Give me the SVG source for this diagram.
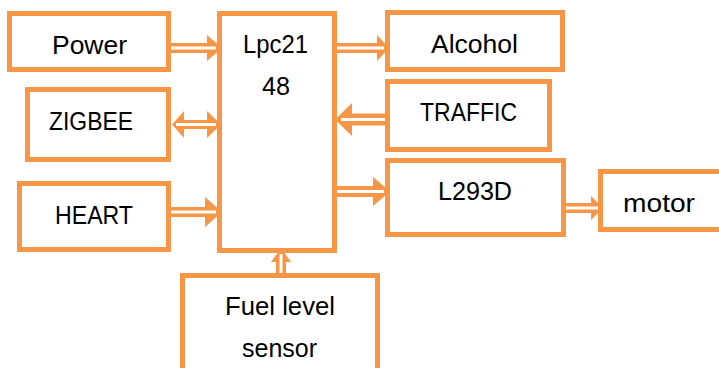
<svg xmlns="http://www.w3.org/2000/svg" width="719" height="368" viewBox="0 0 719 368">
<style>
.box{fill:#fff;stroke:#F79646;stroke-width:5}
.t{font-family:"Liberation Sans",Arial,sans-serif;font-size:25px;fill:#000}
.ar{fill:#F79646}
.aw{fill:none;stroke:#fff;stroke-width:3}
</style>
<rect width="719" height="368" fill="#fff"/>
<g id="connectors">
  <path class="ar" d="M171,43 H207 V35 L222,48 L207,61 V53 H171 Z"/>
  <path class="aw" d="M171,48 H216"/>
  <path class="ar" d="M172,124.5 L184,111 V120 H207 V111 L221,124.5 L207,138 V129 H184 V138 Z"/>
  <path class="aw" d="M176,124.5 H216"/>
  <path class="ar" d="M171,207 H205 V197 L222,212 L205,227 V217 H171 Z"/>
  <path class="aw" d="M171,212 H216"/>
  <path class="ar" d="M337,43 H377 V35 L389,48 L377,61 V53 H337 Z"/>
  <path class="aw" d="M337,48 H384"/>
  <path class="ar" d="M385,113.5 H352 V103 L335,119.5 L352,136 V125.5 H385 Z"/>
  <path class="aw" d="M385,119.5 H341"/>
  <path class="ar" d="M337,186 H373 V177 L390,191.5 L373,206 V197 H337 Z"/>
  <path class="aw" d="M337,191.5 H384"/>
  <path class="ar" d="M566,203 H591 V196 L603,208 L591,220 V213 H566 Z"/>
  <path class="aw" d="M566,208 H598"/>
  <path class="ar" d="M276,273 V262 H271 L281,248 L291,262 H286 V273 Z"/>
  <path class="aw" d="M281,273 V254"/>
</g>
<g id="power">
  <rect class="box" x="9.5" y="13.5" width="159" height="56"/>
  <text class="t" x="52" y="54" textLength="75" lengthAdjust="spacingAndGlyphs">Power</text>
</g>
<g id="zigbee">
  <rect class="box" x="27.5" y="89.5" width="141" height="70"/>
  <text class="t" x="49" y="130" textLength="84" lengthAdjust="spacingAndGlyphs">ZIGBEE</text>
</g>
<g id="heart">
  <rect class="box" x="19.5" y="183.5" width="149" height="66"/>
  <text class="t" x="55" y="224" textLength="78" lengthAdjust="spacingAndGlyphs">HEART</text>
</g>
<g id="lpc2148">
  <rect class="box" x="219.5" y="13.5" width="115" height="237"/>
  <text class="t" x="243" y="53" textLength="65" lengthAdjust="spacingAndGlyphs">Lpc21</text>
  <text class="t" x="262" y="95" textLength="28" lengthAdjust="spacingAndGlyphs">48</text>
</g>
<g id="alcohol">
  <rect class="box" x="387.5" y="12.5" width="175" height="57"/>
  <text class="t" x="431" y="53" textLength="87" lengthAdjust="spacingAndGlyphs">Alcohol</text>
</g>
<g id="traffic">
  <rect class="box" x="387.5" y="81.5" width="162" height="68"/>
  <text class="t" x="420" y="121" textLength="97" lengthAdjust="spacingAndGlyphs">TRAFFIC</text>
</g>
<g id="l293d">
  <rect class="box" x="387.5" y="160.5" width="176" height="74"/>
  <text class="t" x="438" y="200" textLength="74" lengthAdjust="spacingAndGlyphs">L293D</text>
</g>
<g id="motor">
  <rect class="box" x="600.5" y="171.5" width="130" height="58"/>
  <text class="t" x="623" y="212" textLength="72" lengthAdjust="spacingAndGlyphs">motor</text>
</g>
<g id="fuel">
  <rect class="box" x="182.5" y="275.5" width="195" height="100"/>
  <text class="t" x="225" y="315" textLength="110" lengthAdjust="spacingAndGlyphs">Fuel level</text>
  <text class="t" x="242" y="357" textLength="75" lengthAdjust="spacingAndGlyphs">sensor</text>
</g>
</svg>
